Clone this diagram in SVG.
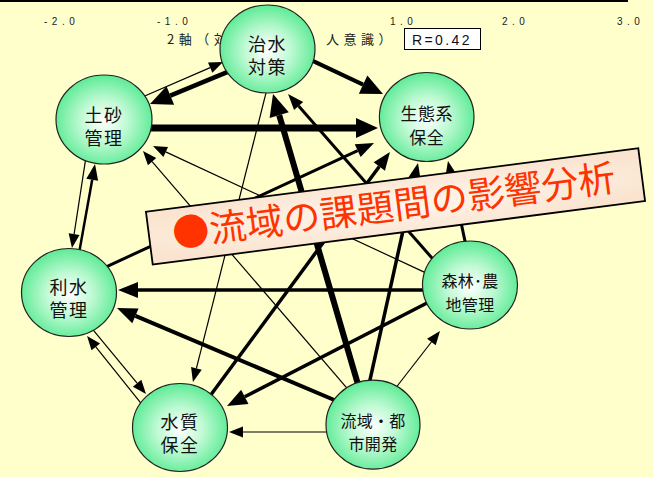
<svg xmlns="http://www.w3.org/2000/svg" width="653" height="477" viewBox="0 0 653 477">
<defs>
<style>
.ax{font-family:"Liberation Sans",Arial,sans-serif;font-size:10px;fill:#222;letter-spacing:4.5px}
.cap{font-family:"Noto Sans CJK JP",sans-serif;font-size:13px;fill:#222;letter-spacing:4.5px}
.node ellipse{fill:url(#ng);stroke:#222;stroke-width:1.2}
.node text{font-family:"Noto Sans CJK JP","Noto Sans CJK SC",sans-serif;font-size:18px;fill:#111;text-anchor:middle;letter-spacing:1.5px}
.node text.s{font-size:16px;letter-spacing:0.3px}
.node text.m{font-size:17px;letter-spacing:0.5px}
#connectors line{stroke:#000;fill:none}
.t{stroke-width:1.2}
</style>
<radialGradient id="ng" cx="50%" cy="52%" r="52%">
<stop offset="0" stop-color="#FFFFFF"/>
<stop offset="0.45" stop-color="#C2FAD5"/>
<stop offset="1" stop-color="#5DEB95"/>
</radialGradient>
<radialGradient id="tg" cx="50%" cy="50%" r="60%">
<stop offset="0" stop-color="#FFF6EE"/>
<stop offset="1" stop-color="#FAE4CF"/>
</radialGradient>
<marker id="mk22" markerUnits="userSpaceOnUse" markerWidth="22" markerHeight="20" refX="0" refY="10" orient="auto" overflow="visible"><path d="M0,0 L22,10 L0,20 Z" fill="#000"/></marker>
<marker id="mk20" markerUnits="userSpaceOnUse" markerWidth="20" markerHeight="16" refX="0" refY="8" orient="auto" overflow="visible"><path d="M0,0 L20,8 L0,16 Z" fill="#000"/></marker>
<marker id="mk18" markerUnits="userSpaceOnUse" markerWidth="18" markerHeight="14" refX="0" refY="7" orient="auto" overflow="visible"><path d="M0,0 L18,7 L0,14 Z" fill="#000"/></marker>
<marker id="mk16" markerUnits="userSpaceOnUse" markerWidth="16" markerHeight="12" refX="0" refY="6" orient="auto" overflow="visible"><path d="M0,0 L16,6 L0,12 Z" fill="#000"/></marker>
<marker id="mk14" markerUnits="userSpaceOnUse" markerWidth="14" markerHeight="11" refX="0" refY="5.5" orient="auto" overflow="visible"><path d="M0,0 L14,5.5 L0,11 Z" fill="#000"/></marker>
</defs>
<rect width="653" height="477" fill="#FFFFCC"/>
<rect x="0" y="0" width="628" height="2" fill="#000"/>
<g id="axis">
<text class="ax" x="44" y="25">-2.0</text>
<text class="ax" x="157" y="25">-1.0</text>
<text class="ax" x="390" y="25">1.0</text>
<text class="ax" x="502" y="25">2.0</text>
<text class="ax" x="617" y="25">3.0</text>
<text class="cap" x="167" y="44">2軸（対</text>
<text class="cap" x="326" y="44">人意識）</text>
<rect x="404.5" y="28.5" width="76" height="21" fill="#FFFFFF" stroke="#000" stroke-width="1"/>
<text x="412" y="45" font-family="Liberation Sans, Arial, sans-serif" font-size="14" letter-spacing="2.4" fill="#111">R=0.42</text>
</g>
<g id="connectors">
<line x1="229.6" y1="71.1" x2="170.3" y2="95.6" stroke-width="4.5" marker-end="url(#mk22)"/>
<line class="t" x1="142.4" y1="97" x2="210.2" y2="67.6" marker-end="url(#mk14)"/>
<line x1="308.5" y1="58.9" x2="363.1" y2="84.6" stroke-width="4" marker-end="url(#mk22)"/>
<line x1="147" y1="128" x2="356" y2="128" stroke-width="7" marker-end="url(#mk22)"/>
<line x1="358.4" y1="385.8" x2="279.2" y2="115.1" stroke-width="6" marker-end="url(#mk22)"/>
<line x1="435.3" y1="261.8" x2="298.6" y2="106" stroke-width="3" marker-end="url(#mk16)"/>
<line class="t" x1="267.2" y1="88.2" x2="196.4" y2="368.4" marker-end="url(#mk14)"/>
<line class="t" x1="428.5" y1="274.1" x2="165.7" y2="151.9" marker-end="url(#mk14)"/>
<line class="t" x1="349.3" y1="390.8" x2="152.1" y2="161.6" marker-end="url(#mk14)"/>
<line x1="103.5" y1="268.1" x2="357.7" y2="150.6" stroke-width="3" marker-end="url(#mk18)"/>
<line x1="210" y1="396" x2="379.3" y2="166.5" stroke-width="3.5" marker-end="url(#mk18)"/>
<line x1="368.9" y1="384.9" x2="414.1" y2="180.6" stroke-width="3.5" marker-end="url(#mk18)"/>
<line x1="466" y1="245.9" x2="451.7" y2="178.6" stroke-width="3" marker-end="url(#mk18)"/>
<line x1="427" y1="290" x2="138" y2="290" stroke-width="3.5" marker-end="url(#mk20)"/>
<line x1="336.6" y1="401" x2="135.4" y2="315.8" stroke-width="4" marker-end="url(#mk20)"/>
<line x1="429.4" y1="301.7" x2="244.8" y2="396.8" stroke-width="3.5" marker-end="url(#mk20)"/>
<line class="t" x1="331" y1="432" x2="243" y2="432" marker-end="url(#mk14)"/>
<line class="t" x1="394.9" y1="389" x2="431.4" y2="342" marker-end="url(#mk14)"/>
<line class="t" x1="85.8" y1="158.1" x2="74.1" y2="234.2" marker-end="url(#mk14)"/>
<line x1="79.1" y1="252.9" x2="92.2" y2="179.8" stroke-width="2.5" marker-end="url(#mk16)"/>
<line class="t" x1="90.8" y1="327.1" x2="137.1" y2="383.2" marker-end="url(#mk14)"/>
<line class="t" x1="143.1" y1="405.9" x2="95.8" y2="346.9" marker-end="url(#mk14)"/>
</g>
<g id="node-chisui" class="node">
<ellipse cx="267.5" cy="49" rx="47.5" ry="44"/>
<text x="267.5" y="51">治水</text><text x="267.5" y="74">対策</text>
</g>
<g id="node-dosha" class="node">
<ellipse cx="104" cy="119.5" rx="48" ry="44.5"/>
<text x="104" y="121.5">土砂</text><text x="104" y="144.5">管理</text>
</g>
<g id="node-seitaikei" class="node">
<ellipse cx="426.7" cy="117" rx="47.3" ry="44.5"/>
<text class="m" x="426.7" y="119.5">生態系</text><text class="m" x="426.7" y="143.5">保全</text>
</g>
<g id="node-risui" class="node">
<ellipse cx="69" cy="292.5" rx="47.5" ry="44"/>
<text x="69" y="294">利水</text><text x="69" y="317">管理</text>
</g>
<g id="node-suishitsu" class="node">
<ellipse cx="180" cy="427.5" rx="47.5" ry="44"/>
<text x="180" y="429">水質</text><text x="180" y="452">保全</text>
</g>
<g id="node-shinrin" class="node">
<ellipse cx="470" cy="285" rx="47.5" ry="44"/>
<text class="s" x="470" y="287">森林･農</text><text class="s" x="470" y="311">地管理</text>
</g>
<g id="node-ryuiki" class="node">
<ellipse cx="373" cy="424.7" rx="47" ry="44.5"/>
<text class="s" x="373" y="426.5">流域・都</text><text class="s" x="373" y="449.5">市開発</text>
</g>
<g id="title" transform="translate(395.5,206.4) rotate(-7.34)">
<rect x="-248.2" y="-26.6" width="496.4" height="53.2" fill="url(#tg)" stroke="#000" stroke-width="1.8"/>
<text x="-1.5" y="12.5" font-family="Noto Sans CJK JP, Noto Sans CJK SC, sans-serif" font-size="37" letter-spacing="0.2" fill="#FF3300" text-anchor="middle">●流域の課題間の影響分析</text>
</g>
</svg>
